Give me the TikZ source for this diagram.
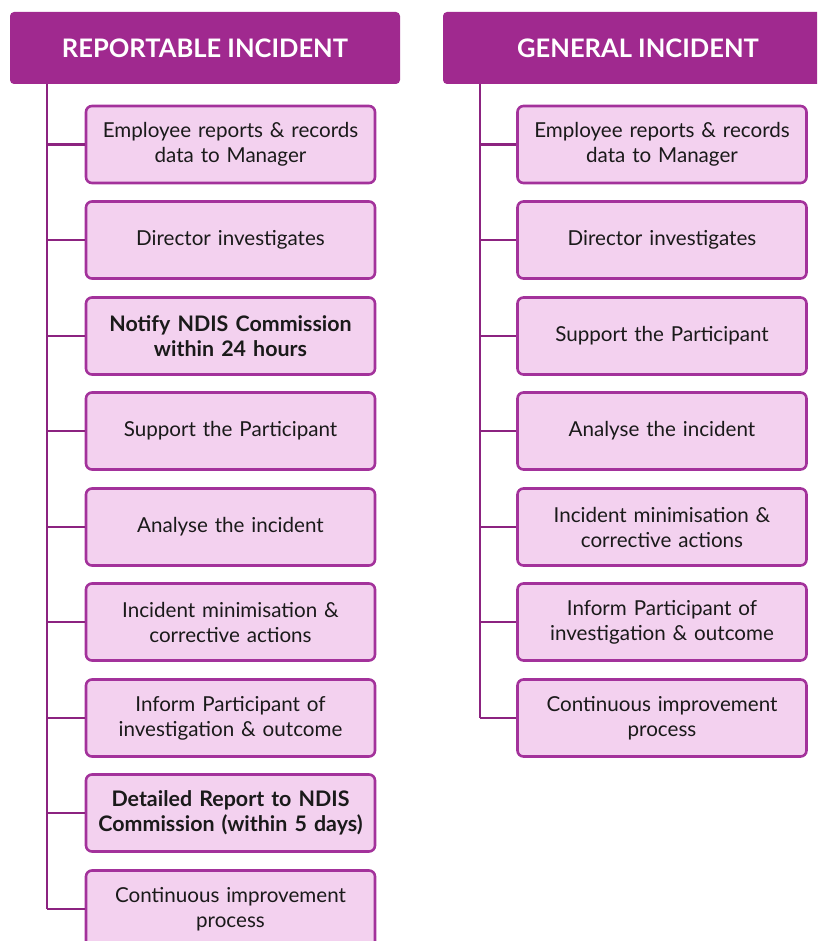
\documentclass[tikz,border=0pt]{standalone}
\usepackage{fontspec}
\setmainfont{Lato}
\usepackage{tikz}
\definecolor{headpurple}{HTML}{A0298F}
\definecolor{boxpink}{HTML}{F3D1EF}
\definecolor{boxedge}{HTML}{A3329B}
\definecolor{trunkpurple}{HTML}{8C2380}
\definecolor{steptext}{HTML}{1A1A1A}

\begin{document}
\begin{tikzpicture}[x=1pt,y=-1pt]
      \tikzstyle header=[fill=headpurple, rounded corners=4pt,
      minimum width=390, minimum height=72, text=white,
      font=\fontsize{25.5}{30}\selectfont\bfseries]
      \tikzstyle stepbox=[fill=boxpink, draw=boxedge, line width=2.6pt,
      rounded corners=6pt, minimum width=289, minimum height=77,
      text width=280, align=center, inner sep=0pt, text=steptext,
      font=\fontsize{20.6}{25}\selectfont]
      \tikzstyle boldstep=[stepbox, font=\fontsize{21.4}{25}\selectfont\bfseries]
      \tikzstyle trunk=[trunkpurple, line width=2.8pt]
      \clip (0,0) rectangle (817,941);
      % reportable incident column
      \node [header] (rephead) at (205,48) {REPORTABLE INCIDENT};
      \coordinate (reptop) at (47,84);
      \coordinate (repend) at (47,909);
      \draw [trunk] (reptop) -- (repend);
      \node [stepbox] (r1) at (230.5,144.5) {Employee reports \& records\\data to Manager};
      \node [stepbox] (r2) at (230.5,240) {Director investigates};
      \node [boldstep] (r3) at (230.5,336) {Notify NDIS Commission\\within 24 hours};
      \node [stepbox] (r4) at (230.5,431) {Support the Participant};
      \node [stepbox] (r5) at (230.5,527) {Analyse the incident};
      \node [stepbox] (r6) at (230.5,622) {Incident minimisation \&\\corrective actions};
      \node [stepbox] (r7) at (230.5,718) {Inform Participant of\\investigation \& outcome};
      \node [boldstep] (r8) at (230.5,813) {Detailed Report to NDIS\\Commission (within 5 days)};
      \node [stepbox] (r9) at (230.5,909) {Continuous improvement\\process};
      \draw [trunk] (r1.west -| reptop) -- (r1.west);
      \draw [trunk] (r2.west -| reptop) -- (r2.west);
      \draw [trunk] (r3.west -| reptop) -- (r3.west);
      \draw [trunk] (r4.west -| reptop) -- (r4.west);
      \draw [trunk] (r5.west -| reptop) -- (r5.west);
      \draw [trunk] (r6.west -| reptop) -- (r6.west);
      \draw [trunk] (r7.west -| reptop) -- (r7.west);
      \draw [trunk] (r8.west -| reptop) -- (r8.west);
      \draw [trunk] (r9.west -| reptop) -- (r9.west);
      % general incident column
      \node [header] (genhead) at (638,48) {GENERAL INCIDENT};
      \coordinate (gentop) at (480,84);
      \coordinate (genend) at (480,718);
      \draw [trunk] (gentop) -- (genend);
      \node [stepbox] (g1) at (662,144.5) {Employee reports \& records\\data to Manager};
      \node [stepbox] (g2) at (662,240) {Director investigates};
      \node [stepbox] (g3) at (662,336) {Support the Participant};
      \node [stepbox] (g4) at (662,431) {Analyse the incident};
      \node [stepbox] (g5) at (662,527) {Incident minimisation \&\\corrective actions};
      \node [stepbox] (g6) at (662,622) {Inform Participant of\\investigation \& outcome};
      \node [stepbox] (g7) at (662,718) {Continuous improvement\\process};
      \draw [trunk] (g1.west -| gentop) -- (g1.west);
      \draw [trunk] (g2.west -| gentop) -- (g2.west);
      \draw [trunk] (g3.west -| gentop) -- (g3.west);
      \draw [trunk] (g4.west -| gentop) -- (g4.west);
      \draw [trunk] (g5.west -| gentop) -- (g5.west);
      \draw [trunk] (g6.west -| gentop) -- (g6.west);
      \draw [trunk] (g7.west -| gentop) -- (g7.west);
    \end{tikzpicture}
\end{document}
